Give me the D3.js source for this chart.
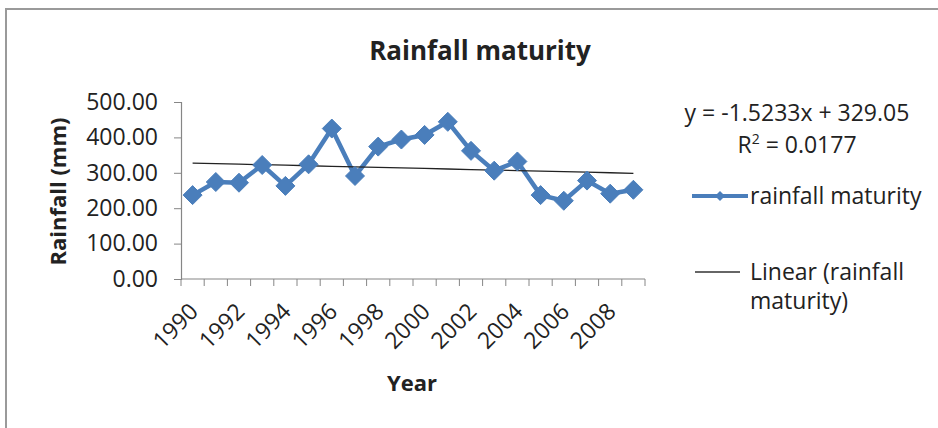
<!DOCTYPE html>
<html>
<head>
<meta charset="utf-8">
<script src="https://cdn.jsdelivr.net/npm/d3@7"></script>
<style>
  html, body { margin: 0; padding: 0; background: #fff; }
  svg { display: block; }
  text { font-family: "Open Sans", "Noto Sans", sans-serif; fill: #222; }
</style>
</head>
<body>
<svg id="chart" width="938" height="428"></svg>
<script>
// ---- data ----
const years = [1990,1991,1992,1993,1994,1995,1996,1997,1998,1999,2000,2001,2002,2003,2004,2005,2006,2007,2008,2009];
const rainfall = [237,274,272,322,263,324,425,291,374,394,407,444,362,306,332,237,221,278,241,252];
const yTicks = [0,100,200,300,400,500];
const xTickLabels = [1990,1992,1994,1996,1998,2000,2002,2004,2006,2008];
const trendSlope = -1.5233;
const trendIntercept = 329.05;
const title = "Rainfall maturity";
const seriesName = "rainfall maturity";
const trendName = ["Linear (rainfall", "maturity)"];
const equationText = "y = -1.5233x + 329.05";

// ---- layout ----
const svg = d3.select("#chart");
const W = 938, H = 428;
const plot = { left: 181, right: 645, top: 102, bottom: 279 };
const blue = "#4a7ebb";
const FS = 23;

// frame
svg.append("rect").attr("x", 0).attr("y", 0).attr("width", W).attr("height", H).attr("fill", "#fff");
svg.append("path").attr("d", `M6,${H} L6,9 L${W},9`).attr("fill", "none").attr("stroke", "#9a9a9a").attr("stroke-width", 2);

const x = d3.scaleBand().domain(years).range([plot.left, plot.right]).paddingInner(0).paddingOuter(0);
const y = d3.scaleLinear().domain([0, 500]).range([plot.bottom, plot.top]);

// y axis
const yAxis = d3.axisLeft(y).tickValues(yTicks).tickFormat(d3.format(".2f")).tickSize(7).tickPadding(16);
const gy = svg.append("g").attr("transform", `translate(${plot.left},0)`).call(yAxis);
gy.select(".domain").attr("stroke", "#868686").attr("stroke-width", 1.2);
gy.selectAll(".tick line").attr("stroke", "#868686");
gy.selectAll(".tick text").attr("font-size", FS).attr("fill", "#222").style("font-family", '"Open Sans", sans-serif');

// x axis: ticks at category boundaries
const boundaries = years.map(d => x(d)).concat([plot.right]);
const gx = svg.append("g");
gx.append("line").attr("x1", plot.left).attr("x2", plot.right).attr("y1", plot.bottom).attr("y2", plot.bottom)
  .attr("stroke", "#868686").attr("stroke-width", 1.2);
gx.selectAll("line.tk").data(boundaries).enter().append("line").attr("class", "tk")
  .attr("x1", d => d).attr("x2", d => d).attr("y1", plot.bottom).attr("y2", plot.bottom + 7)
  .attr("stroke", "#868686");
gx.selectAll("text.xl").data(xTickLabels).enter().append("text").attr("class", "xl")
  .attr("transform", d => `translate(${x(d) + x.bandwidth() / 2 + 7},${plot.bottom + 34}) rotate(-45)`)
  .attr("text-anchor", "end").attr("font-size", FS).text(d => d);

// axis titles
svg.append("text").attr("transform", `translate(66,${(plot.top + plot.bottom) / 2 + 1}) rotate(-90)`)
  .attr("text-anchor", "middle").attr("font-size", 22).attr("font-weight", "bold").text("Rainfall (mm)");
svg.append("text").attr("x", 412).attr("y", 391).attr("text-anchor", "middle")
  .attr("font-size", 22).attr("font-weight", "bold").text("Year");

// title
svg.append("text").attr("x", 480).attr("y", 60).attr("text-anchor", "middle")
  .attr("font-size", 26).attr("font-weight", "bold").text(title);

// series line
const cx = d => x(d) + x.bandwidth() / 2;
const line = d3.line().x((d, i) => cx(years[i])).y(d => y(d));
svg.append("path").datum(rainfall).attr("d", line).attr("fill", "none").attr("stroke", blue).attr("stroke-width", 4.5).attr("stroke-linejoin", "round");

// trendline
const trend = years.map((d, i) => trendSlope * (i + 1) + trendIntercept);
svg.append("path").datum(trend).attr("d", line).attr("fill", "none").attr("stroke", "#222").attr("stroke-width", 1.3);

// markers
const diamond = (cxv, cyv, r) => `M${cxv},${cyv - r} L${cxv + r},${cyv} L${cxv},${cyv + r} L${cxv - r},${cyv} Z`;
svg.selectAll("path.mk").data(rainfall).enter().append("path").attr("class", "mk")
  .attr("d", (d, i) => diamond(cx(years[i]), y(d), 9.5)).attr("fill", blue).attr("stroke", blue).attr("stroke-width", 1);

// legend
svg.append("text").attr("x", 797).attr("y", 121).attr("text-anchor", "middle").attr("font-size", FS).text(equationText);
const r2 = svg.append("text").attr("x", 797).attr("y", 153).attr("text-anchor", "middle").attr("font-size", FS);
r2.append("tspan").text("R");
r2.append("tspan").attr("font-size", 14).attr("dy", -9).text("2");
r2.append("tspan").attr("dy", 9).text(" = 0.0177");

svg.append("line").attr("x1", 692).attr("x2", 748).attr("y1", 196).attr("y2", 196).attr("stroke", blue).attr("stroke-width", 4);
svg.append("path").attr("d", diamond(720, 196, 5)).attr("fill", blue);
svg.append("text").attr("x", 750).attr("y", 204).attr("font-size", FS).text(seriesName);

svg.append("line").attr("x1", 695).attr("x2", 740).attr("y1", 272).attr("y2", 272).attr("stroke", "#333").attr("stroke-width", 1.3);
svg.append("text").attr("x", 750).attr("y", 280).attr("font-size", FS).text(trendName[0]);
svg.append("text").attr("x", 750).attr("y", 309).attr("font-size", FS).text(trendName[1]);
</script>
</body>
</html>
